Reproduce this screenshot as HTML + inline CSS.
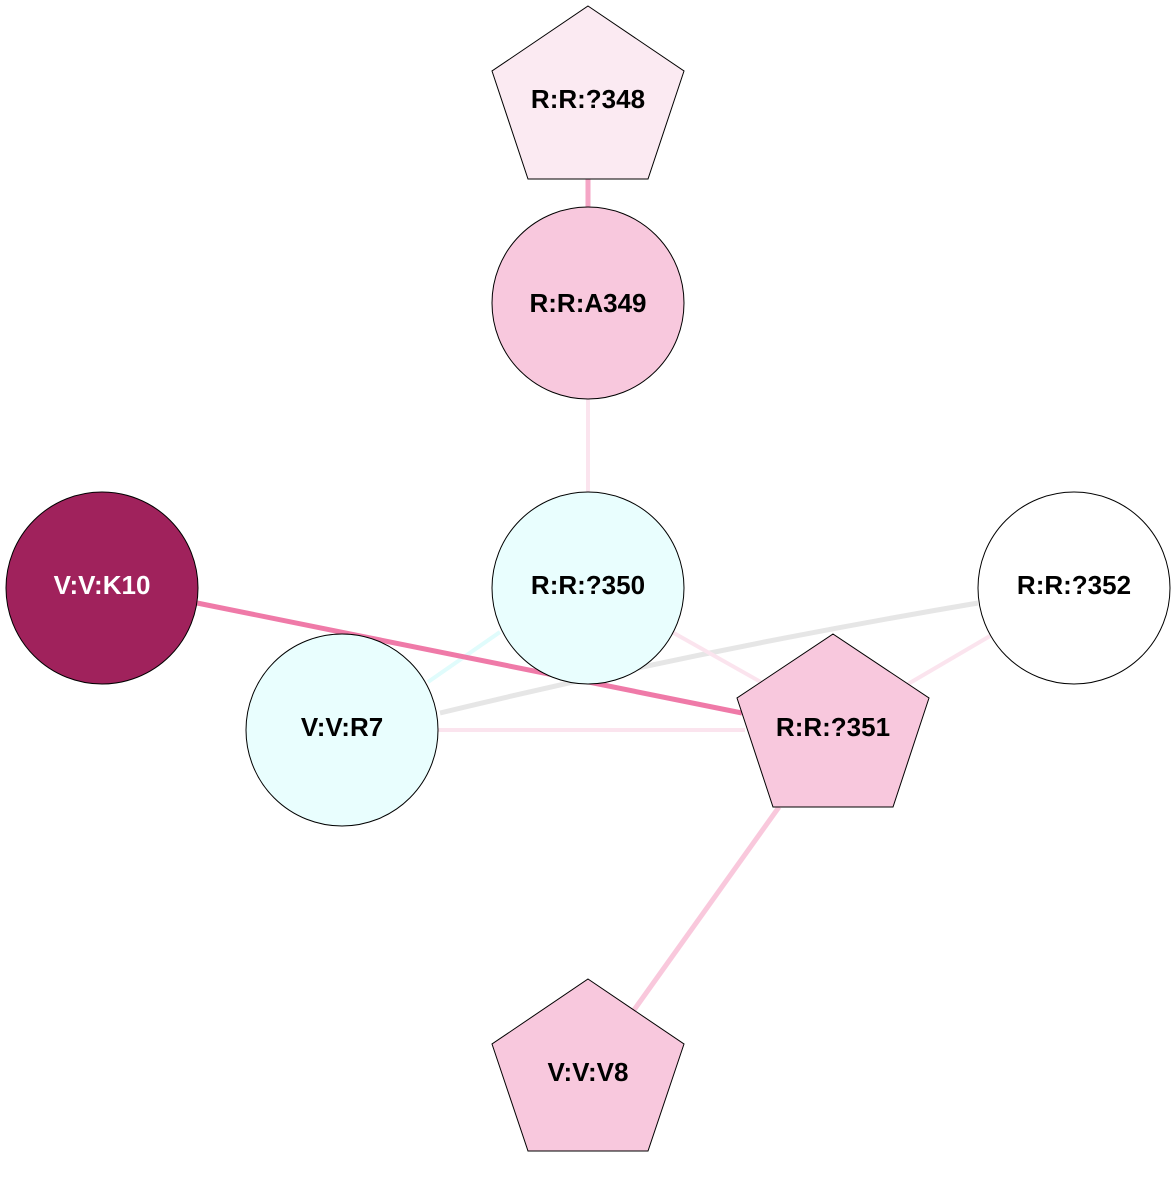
<!DOCTYPE html>
<html><head><meta charset="utf-8"><style>html,body{margin:0;padding:0;background:#fff}</style></head>
<body>
<svg width="1176" height="1176" viewBox="0 0 1176 1176" xmlns="http://www.w3.org/2000/svg">
<g fill="none" stroke-linecap="butt">
<line x1="588" y1="179" x2="588" y2="208" stroke="#f5a6c6" stroke-width="5"/>
<line x1="588" y1="399" x2="588" y2="492" stroke="#fbe4ee" stroke-width="4"/>
<line x1="500" y1="632" x2="428" y2="682" stroke="#e0fcfc" stroke-width="4"/>
<path d="M978,603 Q700,650 440,713" stroke="#e6e6e6" stroke-width="5"/>
<line x1="438" y1="730" x2="745" y2="730" stroke="#fbe4ee" stroke-width="4"/>
<line x1="672" y1="632" x2="775" y2="690" stroke="#fbe4ee" stroke-width="4"/>
<line x1="990" y1="636" x2="908" y2="684" stroke="#fbe4ee" stroke-width="4"/>
<line x1="197" y1="603" x2="742" y2="713" stroke="#ef7aa8" stroke-width="5"/>
<line x1="779" y1="807" x2="634" y2="1010" stroke="#f9c8dc" stroke-width="5"/>
</g>
<g stroke="#000" stroke-width="1">
<polygon points="588,6 684,71 648,179 528,179 492,71" fill="#fbeaf2"/>
<circle cx="588" cy="303" r="96" fill="#f8c8dd"/>
<circle cx="588" cy="588" r="96" fill="#e9fefe"/>
<circle cx="102" cy="588" r="96" fill="#a0225c"/>
<circle cx="1074" cy="588" r="96" fill="#ffffff"/>
<circle cx="342" cy="730" r="96" fill="#e9fefe"/>
<polygon points="833,634 929,698 893,807 773,807 737,698" fill="#f8c8dd"/>
<polygon points="588,979 684,1044 648,1151 528,1151 492,1044" fill="#f8c8dd"/>
</g>
<g font-family="Liberation Sans, Arial, sans-serif" font-weight="bold" font-size="26" text-anchor="middle" fill="#000">
<text x="588" y="108">R:R:?348</text>
<text x="588" y="312">R:R:A349</text>
<text x="588" y="594">R:R:?350</text>
<text x="102" y="594" fill="#fff">V:V:K10</text>
<text x="1074" y="594">R:R:?352</text>
<text x="342" y="736">V:V:R7</text>
<text x="833" y="736">R:R:?351</text>
<text x="588" y="1081">V:V:V8</text>
</g>
</svg>
</body></html>
